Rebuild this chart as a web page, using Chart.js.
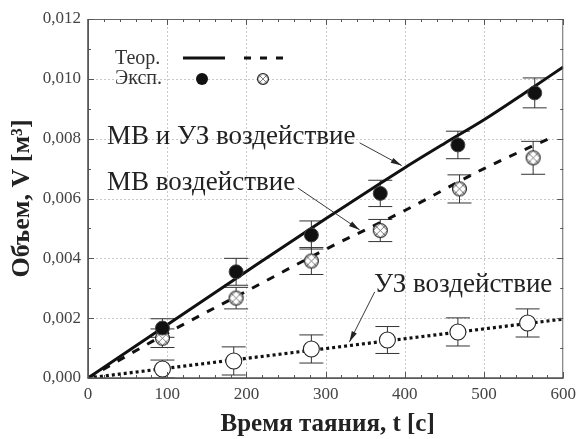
<!DOCTYPE html>
<html lang="ru">
<head>
<meta charset="utf-8">
<title>Объем от времени таяния</title>
<script src="https://cdn.jsdelivr.net/npm/chart.js@4.4.1/dist/chart.umd.min.js"></script>
<style>
  html, body { margin: 0; padding: 0; background: #fff; }
  canvas { display: block; }
</style>
</head>
<body>
<canvas id="chart" width="582" height="439"></canvas>
<script>
// Эксперимент: МВ и УЗ воздействие (закрашенные точки)
const tBoth = [94, 187, 282, 369, 467, 564];
const vBoth = [0.00167, 0.00355, 0.00478, 0.00617, 0.00779, 0.00953];
const errBoth = [0.00031, 0.00045, 0.00047, 0.00044, 0.00046, 0.0005];

// Эксперимент: МВ воздействие (перечеркнутые точки)
const tMW = [94, 187, 282, 369, 469, 562];
const vMW = [0.00133, 0.00267, 0.00391, 0.00493, 0.00632, 0.00736];
const errMW = [0.00031, 0.00036, 0.00045, 0.00037, 0.00047, 0.00055];

// Эксперимент: УЗ воздействие (пустые точки)
const tUS = [94, 184, 282, 378, 467, 555];
const vUS = [0.0003, 0.00057, 0.00097, 0.00127, 0.00154, 0.00184];
const errUS = [0.0003, 0.00047, 0.00047, 0.00045, 0.00047, 0.00047];

// Теория
const tTheoryBoth = [0, 100, 200, 300, 400, 450, 500, 550, 600];
const theoryBoth = [0, 0.00178, 0.00356, 0.00532, 0.00703, 0.00784, 0.00863, 0.0095, 0.0104];
const tTheoryMW = [0, 100, 200, 300, 400, 500, 590];
const theoryMW = [0, 0.0015, 0.0029, 0.0043, 0.0056, 0.007, 0.0081];
const tTheoryUS = [0, 600];
const theoryUS = [0, 0.00197];

// Оси
const xTicks = [0, 100, 200, 300, 400, 500, 600];
const yTicks = [0, 0.002, 0.004, 0.006, 0.008, 0.010, 0.012];

const labelTexts = ['МВ и УЗ воздействие', 'МВ воздействие', 'УЗ воздействие'];
const legendTexts = ['Теор.', 'Эксп.'];
const xTitle = 'Время таяния, t [с]';
const yTitle = 'Объем, V [м³]';

const toPoints = (xs, ys) => xs.map((x, i) => ({ x, y: ys[i] }));
const serif = '"Liberation Serif", "DejaVu Serif", serif';

// Перечеркнутый кружок как отдельная картинка
const makeCrossed = (r) => {
  const size = Math.ceil(r * 2 + 3);
  const c = document.createElement('canvas');
  c.width = size; c.height = size;
  const g = c.getContext('2d');
  const m = size / 2;
  g.beginPath();
  g.arc(m, m, r, 0, Math.PI * 2);
  g.fillStyle = '#fff';
  g.fill();
  g.save();
  g.clip();
  g.strokeStyle = '#555';
  g.lineWidth = 0.75;
  const step = r * 0.72;
  for (let k = -1; k <= 1; k++) {
    const o = k * step * Math.SQRT2;
    g.beginPath(); g.moveTo(m + o - size, m - size); g.lineTo(m + o + size, m + size); g.stroke();
    g.beginPath(); g.moveTo(m + o + size, m - size); g.lineTo(m + o - size, m + size); g.stroke();
  }
  g.restore();
  g.beginPath();
  g.arc(m, m, r, 0, Math.PI * 2);
  g.strokeStyle = '#222';
  g.lineWidth = 1.1;
  g.stroke();
  return c;
};
const crossedPoint = makeCrossed(7);
const crossedSmall = makeCrossed(5.5);

const errorSets = [
  { t: tBoth, v: vBoth, e: errBoth },
  { t: tMW, v: vMW, e: errMW },
  { t: tUS, v: vUS, e: errUS }
];

const arrow = (ctx, x1, y1, x2, y2) => {
  ctx.beginPath();
  ctx.moveTo(x1, y1);
  ctx.lineTo(x2, y2);
  ctx.stroke();
  const a = Math.atan2(y2 - y1, x2 - x1);
  const len = 11, w = 2.8;
  ctx.beginPath();
  ctx.moveTo(x2, y2);
  ctx.lineTo(x2 - len * Math.cos(a) + w * Math.sin(a), y2 - len * Math.sin(a) - w * Math.cos(a));
  ctx.lineTo(x2 - len * Math.cos(a) - w * Math.sin(a), y2 - len * Math.sin(a) + w * Math.cos(a));
  ctx.closePath();
  ctx.fill();
};

const decor = {
  id: 'decor',
  beforeDatasetsDraw(chart) {
    const { ctx, chartArea: a, scales: { x, y } } = chart;
    ctx.save();
    // пунктирная сетка
    ctx.strokeStyle = '#c9c9c9';
    ctx.lineWidth = 1;
    ctx.setLineDash([2, 2]);
    xTicks.slice(1, -1).forEach(v => {
      const px = Math.round(x.getPixelForValue(v)) + 0.5;
      ctx.beginPath(); ctx.moveTo(px, a.top); ctx.lineTo(px, a.bottom); ctx.stroke();
    });
    yTicks.slice(1, -1).forEach(v => {
      const py = Math.round(y.getPixelForValue(v)) + 0.5;
      ctx.beginPath(); ctx.moveTo(a.left, py); ctx.lineTo(a.right, py); ctx.stroke();
    });
    ctx.setLineDash([]);
    // погрешности
    ctx.strokeStyle = '#333';
    ctx.lineWidth = 1;
    errorSets.forEach(s => {
      s.t.forEach((t, i) => {
        const px = x.getPixelForValue(t);
        const top = y.getPixelForValue(s.v[i] + s.e[i]);
        const bot = y.getPixelForValue(Math.max(0, s.v[i] - s.e[i]));
        ctx.beginPath();
        ctx.moveTo(px, top); ctx.lineTo(px, bot);
        ctx.moveTo(px - 12, top); ctx.lineTo(px + 12, top);
        ctx.moveTo(px - 12, bot); ctx.lineTo(px + 12, bot);
        ctx.stroke();
      });
    });
    ctx.restore();
  },
  afterDraw(chart) {
    const { ctx, chartArea: a, scales: { x, y } } = chart;
    ctx.save();
    // рамка
    ctx.strokeStyle = '#666';
    ctx.lineWidth = 1;
    ctx.strokeRect(a.left + 0.5, a.top + 0.5, a.right - a.left - 1, a.bottom - a.top);
    ctx.strokeStyle = '#555';
    ctx.lineWidth = 1.6;
    ctx.beginPath();
    ctx.moveTo(a.left, a.top); ctx.lineTo(a.left, a.bottom); ctx.lineTo(a.right, a.bottom);
    ctx.stroke();
    // внутренние засечки
    ctx.strokeStyle = '#555';
    ctx.lineWidth = 1;
    for (let v = 0; v <= 600; v += 20) {
      const px = Math.round(x.getPixelForValue(v)) + 0.5;
      const len = v % 100 === 0 ? 6 : 3;
      ctx.beginPath();
      ctx.moveTo(px, a.bottom); ctx.lineTo(px, a.bottom - len);
      ctx.moveTo(px, a.top); ctx.lineTo(px, a.top + len);
      ctx.stroke();
    }
    for (let k = 0; k <= 12; k++) {
      const py = Math.round(y.getPixelForValue(k * 0.001)) + 0.5;
      const len = k % 2 === 0 ? 6 : 3;
      ctx.beginPath();
      ctx.moveTo(a.left, py); ctx.lineTo(a.left + len, py);
      ctx.moveTo(a.right, py); ctx.lineTo(a.right - len, py);
      ctx.stroke();
    }
    // легенда
    ctx.fillStyle = '#333';
    ctx.font = `20px ${serif}`;
    ctx.textBaseline = 'middle';
    ctx.textAlign = 'left';
    ctx.fillText(legendTexts[0], a.left + 27, a.top + 40);
    ctx.fillText(legendTexts[1], a.left + 27, a.top + 60);
    ctx.strokeStyle = '#111';
    ctx.lineWidth = 3;
    ctx.beginPath(); ctx.moveTo(a.left + 95, a.top + 39); ctx.lineTo(a.left + 137, a.top + 39); ctx.stroke();
    ctx.setLineDash([7, 9]);
    ctx.beginPath(); ctx.moveTo(a.left + 156, a.top + 39); ctx.lineTo(a.left + 197, a.top + 39); ctx.stroke();
    ctx.setLineDash([]);
    ctx.beginPath();
    ctx.arc(a.left + 114, a.top + 60, 6, 0, Math.PI * 2);
    ctx.fillStyle = '#111';
    ctx.fill();
    ctx.drawImage(crossedSmall, a.left + 175 - crossedSmall.width / 2, a.top + 60 - crossedSmall.height / 2);
    // подписи кривых
    ctx.fillStyle = '#222';
    ctx.font = `27px ${serif}`;
    ctx.fillText(labelTexts[0], x.getPixelForValue(24), y.getPixelForValue(0.00806));
    ctx.fillText(labelTexts[1], x.getPixelForValue(24), y.getPixelForValue(0.00652));
    ctx.fillText(labelTexts[2], x.getPixelForValue(361), y.getPixelForValue(0.00311));
    ctx.strokeStyle = '#222';
    ctx.lineWidth = 0.9;
    arrow(ctx, x.getPixelForValue(343), y.getPixelForValue(0.00786), x.getPixelForValue(396), y.getPixelForValue(0.0071));
    arrow(ctx, x.getPixelForValue(265), y.getPixelForValue(0.00635), x.getPixelForValue(343), y.getPixelForValue(0.00495));
    arrow(ctx, x.getPixelForValue(362), y.getPixelForValue(0.00288), x.getPixelForValue(330), y.getPixelForValue(0.0012));
    // заголовки осей
    ctx.fillStyle = '#222';
    ctx.font = `bold 25px ${serif}`;
    ctx.textAlign = 'center';
    ctx.fillText(xTitle, (a.left + a.right) / 2 + 2, 425);
    ctx.font = `bold 26px ${serif}`;
    ctx.translate(22, (a.top + a.bottom) / 2);
    ctx.rotate(-Math.PI / 2);
    ctx.fillText(yTitle, 0, 0);
    ctx.restore();
  }
};

const ctx = document.getElementById('chart').getContext('2d');

new Chart(ctx, {
  type: 'scatter',
  data: {
    datasets: [
      {
        label: 'МВ и УЗ эксп.',
        data: toPoints(tBoth, vBoth),
        pointStyle: 'circle',
        pointRadius: 7,
        backgroundColor: '#111',
        borderColor: '#444',
        borderWidth: 1
      },
      {
        label: 'МВ эксп.',
        data: toPoints(tMW, vMW),
        pointStyle: crossedPoint,
        pointRadius: 7
      },
      {
        label: 'УЗ эксп.',
        data: toPoints(tUS, vUS),
        pointStyle: 'circle',
        pointRadius: 8,
        backgroundColor: '#fff',
        borderColor: '#222',
        borderWidth: 1.1
      },
      {
        label: 'МВ и УЗ теор.',
        data: toPoints(tTheoryBoth, theoryBoth),
        showLine: true,
        cubicInterpolationMode: 'monotone',
        pointRadius: 0,
        borderColor: '#111',
        borderWidth: 3
      },
      {
        label: 'МВ теор.',
        data: toPoints(tTheoryMW, theoryMW),
        showLine: true,
        cubicInterpolationMode: 'monotone',
        pointRadius: 0,
        borderColor: '#111',
        borderWidth: 3,
        borderDash: [8, 9]
      },
      {
        label: 'УЗ теор.',
        data: toPoints(tTheoryUS, theoryUS),
        showLine: true,
        pointRadius: 0,
        borderColor: '#111',
        borderWidth: 3.2,
        borderDash: [3, 3]
      }
    ]
  },
  options: {
    responsive: false,
    animation: false,
    layout: { padding: { top: 19, right: 14, left: 0, bottom: 0 } },
    plugins: {
      legend: { display: false },
      tooltip: { enabled: false }
    },
    scales: {
      x: {
        type: 'linear',
        min: 0,
        max: 600,
        grid: { display: false, drawTicks: false, tickLength: 0 },
        border: { display: false },
        afterFit: (s) => { s.height = 61; },
        afterBuildTicks: (s) => { s.ticks = xTicks.map(v => ({ value: v })); },
        ticks: {
          padding: 6,
          color: '#444',
          font: { family: serif, size: 17 },
          maxRotation: 0
        }
      },
      y: {
        type: 'linear',
        min: 0,
        max: 0.012,
        grid: { display: false, drawTicks: false, tickLength: 0 },
        border: { display: false },
        afterFit: (s) => { s.width = 88; },
        afterBuildTicks: (s) => { s.ticks = yTicks.map(v => ({ value: v })); },
        ticks: {
          padding: 7,
          color: '#444',
          font: { family: serif, size: 17 },
          callback: (v) => v.toFixed(3).replace('.', ',')
        }
      }
    }
  },
  plugins: [decor]
});
</script>
</body>
</html>
